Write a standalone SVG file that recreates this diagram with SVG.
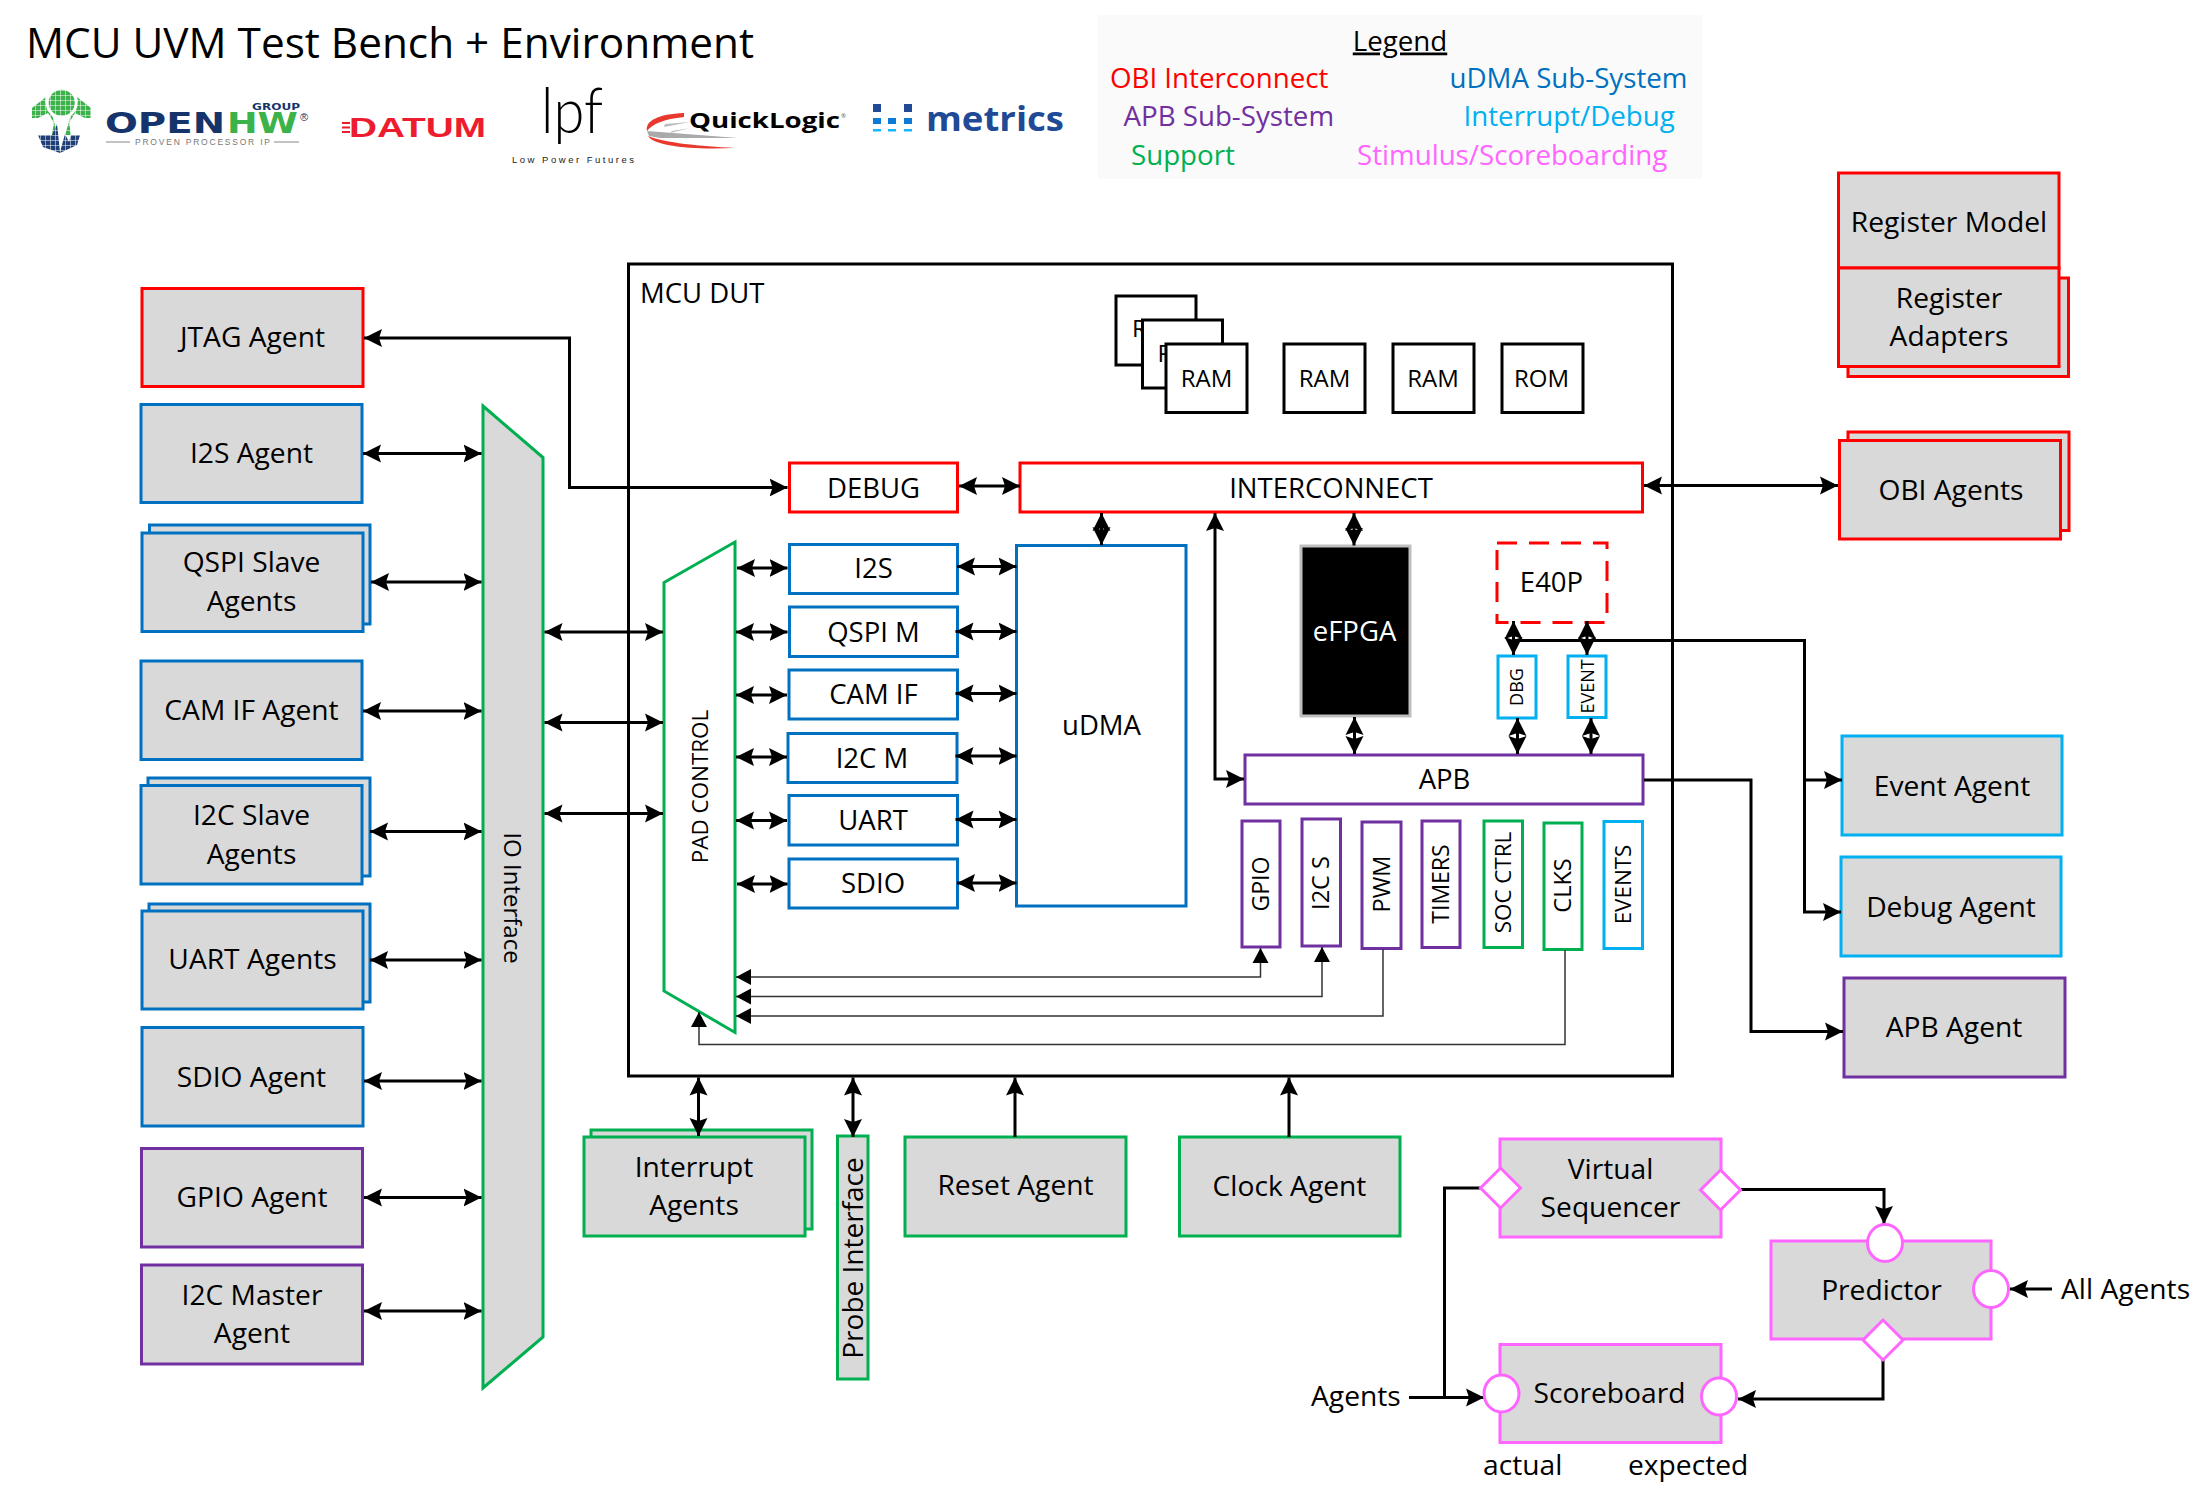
<svg xmlns="http://www.w3.org/2000/svg" width="2207" height="1500" viewBox="0 0 2207 1500">
<style>
text{font-family:"Open Sans","Noto Sans",sans-serif;font-size:28.2px;fill:#000}
.m{text-anchor:middle}
.i{font-size:27.5px}
.b{fill:none;stroke-width:3}
.g{fill:#d9d9d9;stroke-width:3}
.w{fill:#fff;stroke-width:3}
.red{stroke:#f00}.blue{stroke:#0070c0}.pur{stroke:#7030a0}.cy{stroke:#00b0f0}.gr{stroke:#00b050}.pk{stroke:#f6f}.k{stroke:#000}
.c{fill:none;stroke:#000;stroke-width:3}
.t{fill:none;stroke:#333;stroke-width:1.5}
.h{marker-end:url(#a)}
.d{marker-start:url(#a);marker-end:url(#a)}
.th{marker-end:url(#s)}
.td{marker-start:url(#s);marker-end:url(#s)}
.port{fill:#fff;stroke:#f6f;stroke-width:3}
.l{font-size:27.7px}
</style>
<defs>
<marker id="a" markerUnits="userSpaceOnUse" markerWidth="19" markerHeight="20" refX="18" refY="10" orient="auto-start-reverse"><path d="M0,1 L18,10 L0,19 L3,10 z" fill="#000"/></marker>
<marker id="s" markerUnits="userSpaceOnUse" markerWidth="16" markerHeight="18" refX="15" refY="9" orient="auto-start-reverse"><path d="M0,1 L15,9 L0,17 z" fill="#000"/></marker>
<pattern id="grid" width="5" height="5" patternUnits="userSpaceOnUse"><path d="M0,0H5M0,0V5" stroke="#fff" stroke-width="1" fill="none"/></pattern>
</defs>

<g id="title"><text x="26" y="57.500" style="font-size:42.300px">MCU UVM Test Bench + Environment</text></g>

<g id="logos">
<g id="logo-openhw">
<path d="M46,97L32,108V118H38L48,113L54,123L53,118L49,108C45,104 45,100 46,97Z M77,97L91,108V118H85L75,113L69,123L70,118L74,108C78,104 78,100 77,97Z" fill="#3cb34a"/>
<path d="M54,122L58,135H52ZM69,122L65,135H71Z" fill="#3cb34a"/>
<circle cx="61.700" cy="102.700" r="16" fill="#fff"/>
<circle cx="61.700" cy="102.700" r="13" fill="#3cb34a"/>
<path d="M38,135H52L57,124L60,152L65,134L69,142L71,135H80L77,145L60,153L43,147Z" fill="#1f3f77"/>
<rect x="30" y="88" width="64" height="67" fill="url(#grid)"/>
<text x="105" y="132.500" textLength="120" lengthAdjust="spacingAndGlyphs" style="font-family:'DejaVu Sans';font-weight:700;font-size:28px;fill:#14346b">OPEN</text>
<text x="227" y="132.500" textLength="71" lengthAdjust="spacingAndGlyphs" style="font-family:'DejaVu Sans';font-weight:700;font-size:28px;fill:#3cb34a">HW</text>
<text x="300" y="121" style="font-family:'Liberation Sans';font-size:11px;fill:#14346b">®</text>
<text x="252" y="110" textLength="48" lengthAdjust="spacingAndGlyphs" style="font-family:'DejaVu Sans';font-weight:700;font-size:9px;fill:#14346b">GROUP</text>
<text x="135" y="145" textLength="135" lengthAdjust="spacing" style="font-family:'Liberation Sans';font-size:8.500px;fill:#777">PROVEN PROCESSOR IP</text>
<path d="M106,142H130M274,142H299" stroke="#888" stroke-width="1.200" fill="none"/>
</g>
<g id="logo-datum">
<text x="349" y="137" textLength="137" lengthAdjust="spacingAndGlyphs" style="font-family:'Liberation Sans';font-weight:700;font-size:28px;fill:#ed1c2e">DATUM</text>
<path d="M342,123H350M342,127.500H350M342,132H350" stroke="#ed1c2e" stroke-width="2" fill="none"/>
</g>
<g id="logo-lpf">
<text x="541" y="133" textLength="62" lengthAdjust="spacingAndGlyphs" style="font-family:Lato,sans-serif;font-weight:300;font-size:64px">lpf</text>
<text x="512" y="163" textLength="122" lengthAdjust="spacing" style="font-family:'Liberation Sans';font-size:9.500px;fill:#222">Low Power Futures</text>
</g>
<g id="logo-quicklogic">
<path d="M684,113C658,114 645,121 647,131C652,124 664,119 684,117Z" fill="#e8392f"/>
<path d="M665,124L690,122L664,127ZM672,131L690,128L670,133Z" fill="#bbb"/>
<path d="M647,131L660,132L738,138L660,138L649,136Z" fill="#aaa"/>
<path d="M648,136C654,146 690,150 735,148C700,146 665,143 648,136Z" fill="#e8392f"/>
<text x="689" y="128" textLength="151" lengthAdjust="spacingAndGlyphs" style="font-weight:700;font-size:22px">QuickLogic</text>
<text x="841" y="118" style="font-size:6px;fill:#555">®</text>
</g>
<g id="logo-metrics">
<path d="M873,104h8v8h-8zM904,104h8v8h-8z" fill="#1f4a96"/>
<path d="M873,118h8v6h-8zM888,118h8v6h-8zM904,118h8v6h-8z" fill="#0d7ad6"/>
<path d="M873,129h8v2.500h-8zM888,129h8v2.500h-8zM904,129h8v2.500h-8z" fill="#19b5fe"/>
<text x="926" y="131" textLength="138" lengthAdjust="spacingAndGlyphs" style="font-weight:700;font-size:34px;fill:#1f4a96">metrics</text>
</g>
</g>

<g id="legend">
<rect x="1098" y="15" width="604" height="164" fill="#fafafa"/>
<text x="1400" y="50.500" class="m l" text-decoration="underline">Legend</text>
<text x="1110" y="87.500" class="l" style="fill:#f00">OBI Interconnect</text>
<text x="1449.500" y="87.500" class="l" style="fill:#0070c0">uDMA Sub-System</text>
<text x="1123.500" y="125.500" class="l" style="fill:#7030a0">APB Sub-System</text>
<text x="1463.500" y="125.500" class="l" style="fill:#00b0f0">Interrupt/Debug</text>
<text x="1131" y="164.500" class="l" style="fill:#00b050">Support</text>
<text x="1357" y="164.500" class="l" style="fill:#f6f">Stimulus/Scoreboarding</text>
</g>

<g id="mcu-dut">
<rect x="628.500" y="264" width="1044" height="812" class="b k"/>
<text x="640" y="303" class="i">MCU DUT</text>
</g>

<g id="ram-0"><rect x="1116" y="296" width="80" height="69" class="w k"/><text x="1132" y="337" style="font-size:24px">R</text></g>
<g id="ram-1"><rect x="1142.500" y="320" width="80" height="68" class="w k"/><text x="1157.500" y="362" style="font-size:24px">R</text></g>
<g id="ram-2"><rect x="1166" y="344" width="81" height="68.500" class="w k"/><text x="1206.500" y="387" class="m" style="font-size:24px">RAM</text></g>
<g id="ram-3"><rect x="1284" y="344" width="81" height="68.500" class="w k"/><text x="1324.500" y="387" class="m" style="font-size:24px">RAM</text></g>
<g id="ram-4"><rect x="1393" y="344" width="81" height="68.500" class="w k"/><text x="1433" y="387" class="m" style="font-size:24px">RAM</text></g>
<g id="rom"><rect x="1502" y="344" width="81" height="68.500" class="w k"/><text x="1541.500" y="387" class="m" style="font-size:24px">ROM</text></g>

<g id="debug"><rect x="789.500" y="463" width="168" height="49" class="w red"/><text x="873.500" y="497.500" class="m i">DEBUG</text></g>
<g id="interconnect"><rect x="1020" y="463" width="622.500" height="49" class="w red"/><text x="1331" y="497.500" class="m i">INTERCONNECT</text></g>

<g id="pad-control"><path d="M664,582.500L735,542V1032.500L664,991Z" class="w gr"/><text transform="translate(699.500,786.500) rotate(-90)" y="8" class="m" style="font-size:22.400px">PAD CONTROL</text></g>

<g id="i2s"><rect x="789.500" y="544.500" width="168" height="49" class="w blue"/><text x="873.500" y="578" class="m i">I2S</text></g>
<g id="qspi-m"><rect x="789.500" y="607" width="168" height="49.500" class="w blue"/><text x="873.500" y="642" class="m i">QSPI M</text></g>
<g id="cam-if"><rect x="789" y="670" width="168.500" height="49" class="w blue"/><text x="873.500" y="704" class="m i">CAM IF</text></g>
<g id="i2c-m"><rect x="788" y="733.500" width="169" height="49" class="w blue"/><text x="872" y="767.500" class="m i">I2C M</text></g>
<g id="uart"><rect x="789" y="795.500" width="168.500" height="49.500" class="w blue"/><text x="873" y="830" class="m i">UART</text></g>
<g id="sdio"><rect x="789" y="859" width="168.500" height="49" class="w blue"/><text x="873" y="893" class="m i">SDIO</text></g>
<g id="udma"><rect x="1016.500" y="545.500" width="169.500" height="360.500" class="w blue"/><text x="1101.500" y="735" class="m i">uDMA</text></g>

<g id="efpga"><rect x="1301" y="546" width="109" height="170" fill="#000" stroke="#bfbfbf" stroke-width="3"/><text x="1354.500" y="641" class="m i" style="fill:#fff">eFPGA</text></g>
<g id="e40p"><rect x="1497" y="543" width="110" height="79.500" class="w red" stroke-dasharray="20 12"/><text x="1551.500" y="592" class="m i">E40P</text></g>
<g id="dbg"><rect x="1498" y="656" width="38" height="62" class="w cy"/><text transform="translate(1516,687) rotate(-90)" y="6.500" class="m" style="font-size:18px">DBG</text></g>
<g id="event"><rect x="1568" y="656" width="38" height="61.500" class="w cy"/><text transform="translate(1587,686.500) rotate(-90)" y="6.500" class="m" style="font-size:18px">EVENT</text></g>
<g id="apb"><rect x="1245" y="755" width="398" height="49" class="w pur"/><text x="1444.500" y="788.500" class="m i">APB</text></g>

<g id="gpio"><rect x="1242" y="821" width="38" height="126" class="w pur"/><text transform="translate(1261,884) rotate(-90)" y="8" class="m" style="font-size:23px">GPIO</text></g>
<g id="i2c-s"><rect x="1302" y="819" width="38.500" height="127" class="w pur"/><text transform="translate(1321,883) rotate(-90)" y="8" class="m" style="font-size:23.500px">I2C S</text></g>
<g id="pwm"><rect x="1362" y="822" width="39" height="126.500" class="w pur"/><text transform="translate(1382,884) rotate(-90)" y="8" class="m" style="font-size:23.500px">PWM</text></g>
<g id="timers"><rect x="1422" y="821" width="38" height="126.500" class="w pur"/><text transform="translate(1440.500,884) rotate(-90)" y="8" class="m" style="font-size:23px">TIMERS</text></g>
<g id="soc-ctrl"><rect x="1484" y="821" width="38.500" height="126.500" class="w gr"/><text transform="translate(1503,882.500) rotate(-90)" y="8" class="m" style="font-size:22.400px">SOC CTRL</text></g>
<g id="clks"><rect x="1544" y="823" width="38" height="126.500" class="w gr"/><text transform="translate(1562.500,885.500) rotate(-90)" y="8" class="m" style="font-size:23.500px">CLKS</text></g>
<g id="events"><rect x="1604" y="821.500" width="38.500" height="127" class="w cy"/><text transform="translate(1622.500,884.500) rotate(-90)" y="8" class="m" style="font-size:22.400px">EVENTS</text></g>

<g id="io-interface"><path d="M483,406L543,457.500V1337L483,1388Z" class="g gr"/><text transform="translate(512,898) rotate(90)" y="8.500" class="m" style="font-size:24px">IO Interface</text></g>

<g id="jtag-agent"><rect x="142" y="288.500" width="221" height="98" class="g red"/><text x="252.500" y="347" class="m">JTAG Agent</text></g>
<g id="i2s-agent"><rect x="141" y="404.500" width="221" height="98" class="g blue"/><text x="251.500" y="463" class="m">I2S Agent</text></g>
<g id="qspi-slave-agents"><rect x="149.500" y="525" width="220.500" height="99" class="g blue"/><rect x="142" y="533" width="221" height="98.500" class="g blue"/><text x="251.500" y="572" class="m">QSPI Slave</text><text x="251.500" y="611" class="m">Agents</text></g>
<g id="cam-if-agent"><rect x="141" y="661" width="221" height="98.500" class="g blue"/><text x="251.500" y="720" class="m">CAM IF Agent</text></g>
<g id="i2c-slave-agents"><rect x="148" y="778" width="222" height="98" class="g blue"/><rect x="141" y="785.500" width="221" height="98.500" class="g blue"/><text x="251.500" y="825" class="m">I2C Slave</text><text x="251.500" y="864" class="m">Agents</text></g>
<g id="uart-agents"><rect x="149" y="904" width="221" height="98" class="g blue"/><rect x="142" y="911" width="221" height="98" class="g blue"/><text x="252.500" y="969" class="m">UART Agents</text></g>
<g id="sdio-agent"><rect x="142" y="1027.500" width="221" height="98.500" class="g blue"/><text x="251.500" y="1086.500" class="m">SDIO Agent</text></g>
<g id="gpio-agent"><rect x="141.500" y="1148.500" width="221" height="98.500" class="g pur"/><text x="252" y="1206.500" class="m">GPIO Agent</text></g>
<g id="i2c-master-agent"><rect x="141.500" y="1265" width="221" height="99" class="g pur"/><text x="252" y="1304.500" class="m">I2C Master</text><text x="252" y="1343" class="m">Agent</text></g>

<g id="interrupt-agents"><rect x="591" y="1130" width="221" height="99" class="g gr"/><rect x="584" y="1137" width="221" height="99" class="g gr"/><text x="694" y="1176.500" class="m">Interrupt</text><text x="694" y="1215" class="m">Agents</text></g>
<g id="probe-interface"><rect x="837.500" y="1136" width="30.500" height="243" class="g gr"/><text transform="translate(853,1258) rotate(-90)" y="10" class="m" style="font-size:28px">Probe Interface</text></g>
<g id="reset-agent"><rect x="905" y="1137" width="221" height="99" class="g gr"/><text x="1015.500" y="1195" class="m">Reset Agent</text></g>
<g id="clock-agent"><rect x="1179.500" y="1137" width="220.500" height="99" class="g gr"/><text x="1289.500" y="1196" class="m">Clock Agent</text></g>

<g id="register-model"><rect x="1838.500" y="173" width="220.500" height="95" class="g red"/><text x="1949" y="231.500" class="m">Register Model</text></g>
<g id="register-adapters"><rect x="1848" y="278" width="220.500" height="98.500" class="g red"/><rect x="1838.500" y="268" width="220.500" height="98.500" class="g red"/><text x="1949" y="307.500" class="m">Register</text><text x="1949" y="345.500" class="m">Adapters</text></g>
<g id="obi-agents"><rect x="1848" y="432" width="221" height="98.500" class="g red"/><rect x="1839.500" y="440.500" width="221" height="98.500" class="g red"/><text x="1951" y="499.500" class="m">OBI Agents</text></g>
<g id="event-agent"><rect x="1842" y="736" width="220" height="99" class="g cy"/><text x="1952" y="795.500" class="m">Event Agent</text></g>
<g id="debug-agent"><rect x="1841" y="857" width="220" height="99" class="g cy"/><text x="1951" y="916.500" class="m">Debug Agent</text></g>
<g id="apb-agent"><rect x="1844" y="978" width="221" height="99" class="g pur"/><text x="1954" y="1037" class="m">APB Agent</text></g>

<g id="virtual-sequencer"><rect x="1500" y="1139" width="221" height="98" class="g pk"/><text x="1610.500" y="1179" class="m">Virtual</text><text x="1610.500" y="1217" class="m">Sequencer</text></g>
<g id="predictor"><rect x="1771" y="1241" width="220" height="98" class="g pk"/><text x="1881.500" y="1300" class="m">Predictor</text></g>
<g id="scoreboard"><rect x="1500" y="1344.500" width="221" height="98" class="g pk"/><text x="1609.500" y="1403" class="m">Scoreboard</text></g>

<g id="connectors">
<path class="c d" d="M364,338H569.500V487.500H787.500"/>
<path class="c d" d="M363,453.500H481.500"/>
<path class="c d" d="M371,582H481.500"/>
<path class="c d" d="M363,711H481.500"/>
<path class="c d" d="M370,831.500H481.500"/>
<path class="c d" d="M370,960H481.500"/>
<path class="c d" d="M364,1081H481.500"/>
<path class="c d" d="M364,1197.500H481.500"/>
<path class="c d" d="M364,1311H481.500"/>
<path class="c d" d="M544.500,632H663"/>
<path class="c d" d="M544.500,722.500H663"/>
<path class="c d" d="M544.500,813.500H663"/>
<path class="c d" d="M737,568H787.500"/>
<path class="c d" d="M736,632H787.500"/>
<path class="c d" d="M736,695H787"/>
<path class="c d" d="M736,757H787"/>
<path class="c d" d="M736,820.500H787"/>
<path class="c d" d="M737,884H787.500"/>
<path class="c d" d="M957,566.500H1016.500"/>
<path class="c d" d="M955.500,631.500H1016.500"/>
<path class="c d" d="M955.500,693.500H1016.500"/>
<path class="c d" d="M955.500,756H1016.500"/>
<path class="c d" d="M955.500,819.500H1016.500"/>
<path class="c d" d="M957,883H1016.500"/>
<path class="c d" d="M959,486H1020"/>
<path class="c d" d="M1644,485.500H1838"/>
<path class="c d" d="M1101.500,513V545"/>
<path class="c d" d="M1354,513V545.500"/>
<path class="c d" d="M1354.500,717V754"/>
<path class="c d" d="M1215,513V779H1244"/>
<path class="c d" d="M1513.500,621V655"/>
<path class="c d" d="M1587,621V655"/>
<path class="c d" d="M1517.500,718V754"/>
<path class="c d" d="M1591,718V754"/>
<path class="c h" d="M1514,640.500H1804.500V912H1841"/>
<path class="c h" d="M1804.500,780H1842"/>
<path class="c h" d="M1644,780H1751V1031.500H1843"/>
<path class="c d" d="M698.500,1077.500V1136"/>
<path class="c d" d="M853,1077.500V1137"/>
<path class="c h" d="M1015,1137V1077.500"/>
<path class="c h" d="M1289,1137V1077.500"/>
<path class="t td" d="M1260.500,948V977H736"/>
<path class="t td" d="M1322,947V996.500H736"/>
<path class="t th" d="M1383,949V1016H736"/>
<path class="t th" d="M1565,950V1044.500H699V1012"/>
<path class="c" d="M1481,1188H1444.500V1397.500"/>
<path class="c h" d="M1409,1397.500H1484"/>
<path class="c h" d="M1741,1189.500H1884V1224"/>
<path class="c h" d="M2052,1289H2010"/>
<path class="c h" d="M1883,1359V1399H1738"/>
</g>

<g id="ports">
<path class="port" d="M1500.500,1168L1520.500,1188L1500.500,1208L1480.500,1188Z"/>
<path class="port" d="M1720.500,1170L1740.500,1190L1720.500,1210L1700.500,1190Z"/>
<ellipse class="port" cx="1885" cy="1243" rx="17.500" ry="18.500"/>
<ellipse class="port" cx="1991" cy="1289" rx="17.500" ry="18.500"/>
<path class="port" d="M1883,1320L1903,1340L1883,1360L1863,1340Z"/>
<ellipse class="port" cx="1501.500" cy="1393.500" rx="17.500" ry="18.500"/>
<ellipse class="port" cx="1719" cy="1396.500" rx="17.500" ry="18.500"/>
</g>

<g id="labels">
<text x="1311" y="1406">Agents</text>
<text x="2061" y="1299">All Agents</text>
<text x="1483" y="1475">actual</text>
<text x="1628" y="1475">expected</text>
</g>
</svg>
